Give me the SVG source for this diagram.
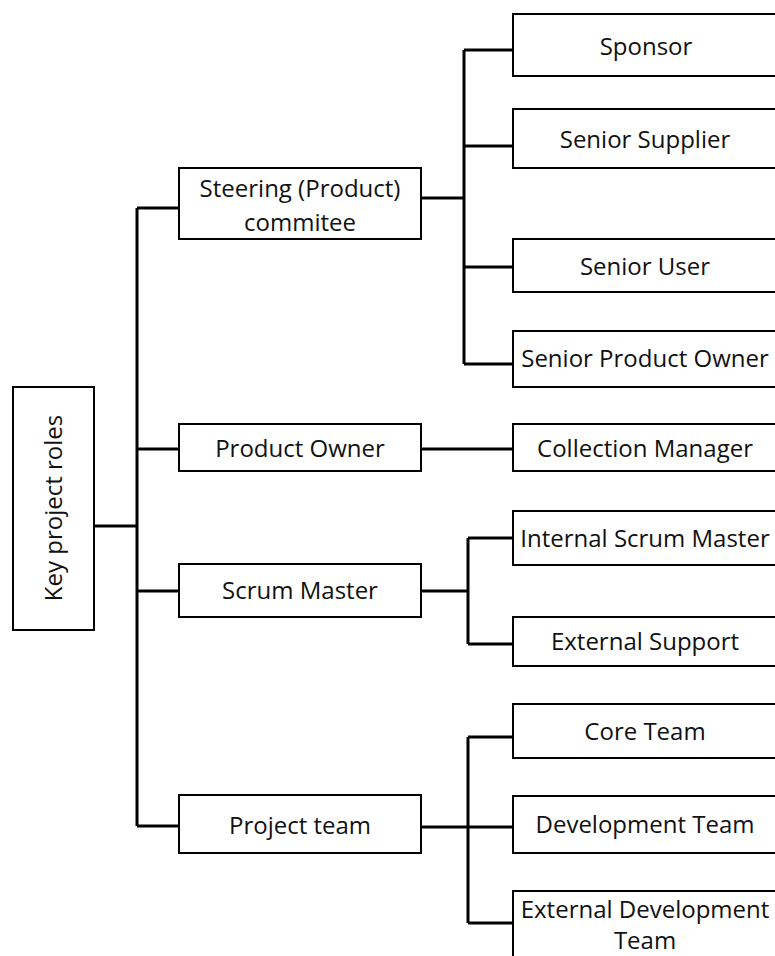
<svg xmlns="http://www.w3.org/2000/svg" width="775" height="956" viewBox="0 0 775 956">
<style>
.box{fill:#fff;stroke:#000;stroke-width:2}
.t{font-family:"Open Sans","Liberation Sans",sans-serif;font-size:24px;fill:#111;text-anchor:middle}
.c{fill:none;stroke:#000;stroke-width:3}
</style>
<rect width="775" height="956" fill="#fff"/>
<g id="connectors">
<path class="c" d="M94 526H137M137 208V826M137 208H179M137 449H179M137 591H179M137 826H179"/>
<path class="c" d="M421 198H464M464 50V364M464 50H513M464 146H513M464 267H513M464 364H513"/>
<path class="c" d="M421 449H513"/>
<path class="c" d="M421 591H468M468 538V644M468 538H513M468 644H513"/>
<path class="c" d="M421 827H468M468 737V923M468 737H513M468 827H513M468 923H513"/>
</g>
<g id="key-roles"><rect class="box" x="13" y="387" width="81" height="243"/><text class="t" transform="translate(62 508) rotate(-90)">Key project roles</text></g>
<g id="steering"><rect class="box" x="179" y="168" width="242" height="71"/><text class="t" x="300" y="197">Steering (Product)</text><text class="t" x="300" y="231">commitee</text></g>
<g id="product-owner"><rect class="box" x="179" y="424" width="242" height="47"/><text class="t" x="300" y="457">Product Owner</text></g>
<g id="scrum-master"><rect class="box" x="179" y="564" width="242" height="53"/><text class="t" x="300" y="599">Scrum Master</text></g>
<g id="project-team"><rect class="box" x="179" y="795" width="242" height="58"/><text class="t" x="300" y="834">Project team</text></g>
<g id="sponsor"><rect class="box" x="513" y="14" width="270" height="62"/><text class="t" x="646" y="55">Sponsor</text></g>
<g id="senior-supplier"><rect class="box" x="513" y="109" width="270" height="59"/><text class="t" x="645" y="148">Senior Supplier</text></g>
<g id="senior-user"><rect class="box" x="513" y="239" width="270" height="53"/><text class="t" x="645" y="275">Senior User</text></g>
<g id="senior-po"><rect class="box" x="513" y="331" width="270" height="56"/><text class="t" x="645" y="367">Senior Product Owner</text></g>
<g id="collection-manager"><rect class="box" x="513" y="424" width="270" height="47"/><text class="t" x="645" y="457">Collection Manager</text></g>
<g id="internal-sm"><rect class="box" x="513" y="511" width="270" height="54"/><text class="t" x="645" y="547">Internal Scrum Master</text></g>
<g id="external-support"><rect class="box" x="513" y="617" width="270" height="49"/><text class="t" x="645" y="650">External Support</text></g>
<g id="core-team"><rect class="box" x="513" y="704" width="270" height="54"/><text class="t" x="645" y="740">Core Team</text></g>
<g id="dev-team"><rect class="box" x="513" y="796" width="270" height="57"/><text class="t" x="645" y="833">Development Team</text></g>
<g id="ext-dev-team"><rect class="box" x="513" y="891" width="270" height="80"/><text class="t" x="645" y="918">External Development</text><text class="t" x="645" y="949">Team</text></g>
</svg>
